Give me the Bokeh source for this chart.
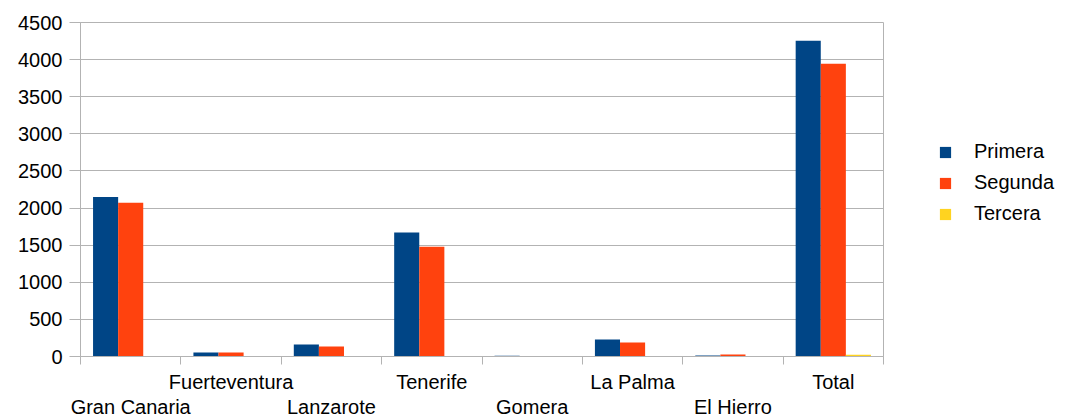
from bokeh.plotting import figure
from bokeh.layouts import row
from bokeh.models import Range1d, FixedTicker, LinearAxis, Legend, LegendItem, ColumnDataSource
from bokeh.transform import dodge
from bokeh.embed import file_html
from bokeh.resources import INLINE

categories = ["Gran Canaria", "Fuerteventura", "Lanzarote", "Tenerife",
              "Gomera", "La Palma", "El Hierro", "Total"]
primera = [2150, 55, 160, 1670, 10, 230, 12, 4255]
segunda = [2070, 55, 135, 1480, 8, 190, 28, 3945]
tercera = [8, 6, 0, 6, 0, 6, 0, 22]
series = ["Primera", "Segunda", "Tercera"]
colors = ["#004586", "#ff420e", "#ffd320"]
y_ticks = list(range(0, 4501, 500))

FONT = "Liberation Sans"
FS = "20px"
GRID = "#b3b3b3"

idx = list(range(len(categories)))
src = ColumnDataSource(dict(x=idx, cat=categories, Primera=primera, Segunda=segunda, Tercera=tercera))

p = figure(width=884, height=420, x_range=Range1d(-0.5, len(categories) - 0.5),
           y_range=Range1d(0, 4500), output_backend="svg", toolbar_location=None,
           min_border_left=80, min_border_top=22, min_border_right=1, min_border_bottom=0)

for k, (s, c) in enumerate(zip(series, colors)):
    p.vbar(x=dodge("x", (k - 1) * 0.25, range=p.x_range), top=s, width=0.25,
           source=src, fill_color=c, line_color=None)

p.outline_line_color = GRID
p.xgrid.visible = False
p.ygrid.ticker = FixedTicker(ticks=y_ticks)
p.ygrid.grid_line_color = GRID

ya = p.yaxis[0]
ya.ticker = FixedTicker(ticks=y_ticks, minor_ticks=[])
ya.major_tick_out = 11
ya.major_tick_in = 0
ya.major_tick_line_color = GRID
ya.axis_line_color = GRID
ya.major_label_standoff = 7
ya.major_label_text_font = FONT
ya.major_label_text_font_size = FS
ya.major_label_text_color = "black"

upper = [i for i in idx if i % 2 == 1]
lower = [i for i in idx if i % 2 == 0]

xa = p.xaxis[0]
xa.ticker = FixedTicker(ticks=upper, minor_ticks=[i - 0.5 for i in range(len(categories) + 1)])
xa.major_label_overrides = {i: categories[i] for i in upper}
xa.major_tick_out = 0
xa.major_tick_in = 0
xa.major_tick_line_color = None
xa.minor_tick_out = 8
xa.minor_tick_in = 0
xa.minor_tick_line_color = GRID
xa.axis_line_color = GRID
xa.major_label_standoff = 6
xa.major_label_text_font = FONT
xa.major_label_text_font_size = FS
xa.major_label_text_color = "black"

xb = LinearAxis(ticker=FixedTicker(ticks=lower, minor_ticks=[]))
xb.major_label_overrides = {i: categories[i] for i in lower}
xb.axis_line_color = None
xb.major_tick_line_color = None
xb.minor_tick_line_color = None
xb.major_label_standoff = -6
xb.major_label_text_font = FONT
xb.major_label_text_font_size = FS
xb.major_label_text_color = "black"
p.add_layout(xb, "below")

# legend panel
q = figure(width=189, height=420, x_range=Range1d(0, 1), y_range=Range1d(0, 1),
           output_backend="svg", toolbar_location=None,
           x_axis_location=None, y_axis_location=None,
           min_border=0, outline_line_color=None)
q.xgrid.visible = False
q.ygrid.visible = False
dummy = []
for s, c in zip(series, colors):
    dummy.append(q.vbar(x=[10], bottom=[9], top=[10], width=0.1, fill_color=c, line_color=None))

legend = Legend(items=[LegendItem(label=s, renderers=[r]) for s, r in zip(series, dummy)],
                location=(54, 131), orientation="vertical",
                glyph_width=14, glyph_height=14, label_standoff=22, spacing=8,
                padding=0, margin=0, border_line_color=None, background_fill_alpha=0,
                label_text_font=FONT, label_text_font_size=FS, label_text_color="black")
q.add_layout(legend, "center")

layout = row(p, q, spacing=0)
open("out.html", "w").write(file_html(layout, INLINE))
